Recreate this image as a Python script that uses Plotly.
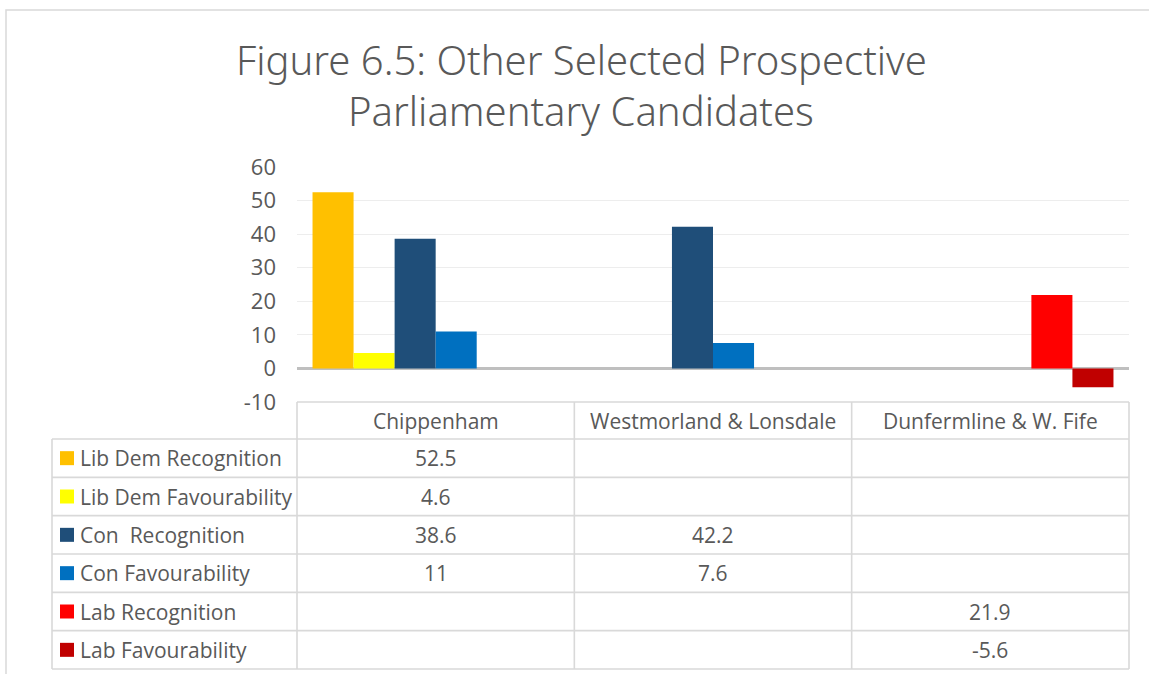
import plotly.graph_objects as go

# ---------------- data ----------------
categories = ["Chippenham", "Westmorland & Lonsdale", "Dunfermline & W. Fife"]
series_names = ["Lib Dem Recognition", "Lib Dem Favourability", "Con  Recognition",
                "Con Favourability", "Lab Recognition", "Lab Favourability"]
lib_dem_recognition = [52.5, None, None]
lib_dem_favourability = [4.6, None, None]
con_recognition = [38.6, 42.2, None]
con_favourability = [11, 7.6, None]
lab_recognition = [None, None, 21.9]
lab_favourability = [None, None, -5.6]
series_values = [lib_dem_recognition, lib_dem_favourability, con_recognition,
                 con_favourability, lab_recognition, lab_favourability]
series_colors = ["#FFC000", "#FFFF00", "#1F4E79", "#0070C0", "#FF0000", "#C00000"]
y_ticks = [-10, 0, 10, 20, 30, 40, 50, 60]
y_tick_labels = ["-10", "0", "10", "20", "30", "40", "50", "60"]
title_lines = ["Figure 6.5: Other Selected Prospective", "Parliamentary Candidates"]

# ---------------- layout geometry (pixels) ----------------
W, H = 1149, 674
L, R, T, B = 297, 20, 167, 272
PW, PH = W - L - R, H - T - B
FONT = "Open Sans"
TITLE_FONT = "Noto Sans"
TXT = "#595959"
GRID = "#D9D9D9"


def px_x(px):
    return (px - L) / PW


def px_y(py):
    return (H - B - py) / PH


fig = go.Figure()
for name, vals, col in zip(series_names, series_values, series_colors):
    fig.add_trace(go.Bar(x=categories, y=vals, name=name, marker_color=col,
                         marker_line_width=0, showlegend=False))

fig.update_layout(
    width=W, height=H,
    margin=dict(l=L, r=R, t=T, b=B, pad=0),
    paper_bgcolor="white", plot_bgcolor="white",
    barmode="group", bargap=0.112, bargroupgap=0,
    font=dict(family=FONT, color=TXT),
    xaxis=dict(type="category", range=[-0.5, len(categories) - 0.5],
               showticklabels=False, showgrid=False, zeroline=False, ticks=""),
    yaxis=dict(range=[y_ticks[0], y_ticks[-1]], tickvals=y_ticks, ticktext=y_tick_labels,
               tickfont=dict(size=22, color=TXT, family=FONT),
               showgrid=True, gridcolor="#EDEDED", gridwidth=1.3,
               zeroline=True, zerolinecolor="#BFBFBF", zerolinewidth=2.5,
               ticks="", ticklabelstandoff=20),
)

shapes = []
annotations = []

# outer chart frame
shapes.append(dict(type="rect", xref="paper", yref="paper",
                   x0=px_x(6), x1=px_x(1200), y0=px_y(10), y1=px_y(720),
                   line=dict(color=GRID, width=1.5), layer="below"))

# title
title_y = [59, 110]
for line, ty in zip(title_lines, title_y):
    annotations.append(dict(text=line, xref="paper", yref="paper",
                            x=px_x(581), y=px_y(ty), xanchor="center", yanchor="middle",
                            showarrow=False,
                            font=dict(size=40, color=TXT, family=TITLE_FONT, weight=300)))

# ---------------- data table ----------------
n_cat = len(categories)
n_rows = len(series_names)
head_top, head_bot = 402, 439
row_h = (669 - head_bot) / n_rows
label_left = 52
line_style = dict(color=GRID, width=1.6)

# horizontal lines
shapes.append(dict(type="line", xref="x domain", yref="paper",
                   x0=0, x1=1, y0=px_y(head_top), y1=px_y(head_top), line=line_style))
for r in range(n_rows + 1):
    yy = px_y(head_bot + r * row_h)
    shapes.append(dict(type="line", xref="paper", yref="paper",
                       x0=px_x(label_left), x1=1, y0=yy, y1=yy, line=line_style))
# vertical lines
shapes.append(dict(type="line", xref="paper", yref="paper",
                   x0=px_x(label_left), x1=px_x(label_left),
                   y0=px_y(head_bot), y1=px_y(669), line=line_style))
for k in range(n_cat + 1):
    shapes.append(dict(type="line", xref="x domain", yref="paper",
                       x0=k / n_cat, x1=k / n_cat,
                       y0=px_y(head_top), y1=px_y(669), line=line_style))

# header row (category names)
for cat in categories:
    annotations.append(dict(text=cat, xref="x", yref="paper", x=cat,
                            y=px_y((head_top + head_bot) / 2), xanchor="center",
                            yanchor="middle", showarrow=False,
                            font=dict(size=21, color=TXT, family=FONT)))

# rows: legend key, label, values
for r, (name, vals, col) in enumerate(zip(series_names, series_values, series_colors)):
    cy = head_bot + (r + 0.5) * row_h
    shapes.append(dict(type="rect", xref="paper", yref="paper",
                       x0=px_x(60), x1=px_x(74), y0=px_y(cy - 7), y1=px_y(cy + 7),
                       fillcolor=col, line=dict(width=0)))
    annotations.append(dict(text=name.replace("  ", "&nbsp; "), xref="paper", yref="paper",
                            x=px_x(78), y=px_y(cy), xanchor="left", yanchor="middle",
                            showarrow=False, font=dict(size=21, color=TXT, family=FONT)))
    for cat, v in zip(categories, vals):
        if v is None:
            continue
        annotations.append(dict(text=f"{v:g}", xref="x", yref="paper", x=cat,
                                y=px_y(cy), xanchor="center", yanchor="middle",
                                showarrow=False, font=dict(size=21, color=TXT, family=FONT)))

fig.update_layout(shapes=shapes, annotations=annotations)
fig.write_html("out.html", config={"displayModeBar": False},
               post_script="document.body.style.margin='0';document.body.style.overflow='hidden';")
